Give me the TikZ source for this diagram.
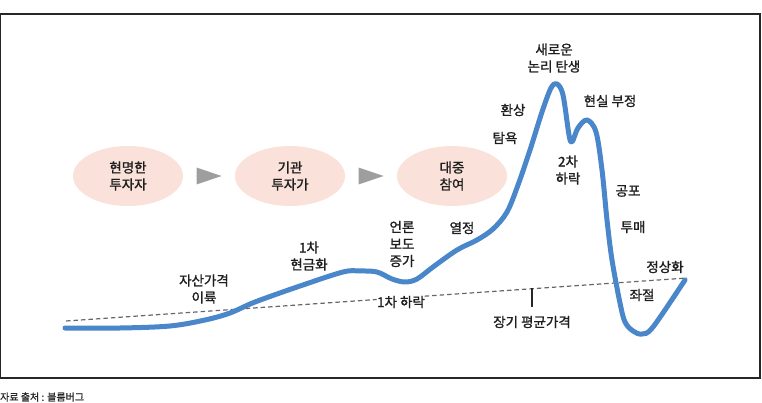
\documentclass[tikz,border=0pt]{standalone}
\usepackage{fontspec}
\setmainfont{Noto Sans CJK KR}[UprightFeatures={FakeBold=1.3}]
\usetikzlibrary{shapes.geometric,calc}
\definecolor{curveblue}{RGB}{74,134,202}
\definecolor{bubblepink}{RGB}{250,226,219}
\definecolor{arrowgray}{RGB}{158,158,158}
\definecolor{textdark}{RGB}{30,30,30}
\tikzset{
  bubble/.style={ellipse,fill=bubblepink,minimum width=110pt,minimum height=60pt,align=center,inner sep=0pt},
  lbl/.style={align=center,text=textdark,font=\fontsize{13.5}{17}\selectfont,inner sep=0pt},
  avgline/.style={dashed,dash pattern=on 4.5pt off 3pt,draw=black!60,line width=1.2pt}
}
\begin{document}
\begin{tikzpicture}[x=1pt,y=-1pt]
		\useasboundingbox (0,0) rectangle (762,403);
		\draw[line width=1.2pt,black!85] (0.6,14) rectangle (760,378);
		% bubbles
		\node[bubble,lbl] (wise) at (128,176) {현명한\\투자자};
		\node[bubble,lbl] (inst) at (290,176) {기관\\투자가};
		\node[bubble,lbl] (crowd) at (452,176) {대중\\참여};
		\coordinate (a1) at ($(wise.east)!0.5!(inst.west)$);
		\coordinate (a2) at ($(inst.east)!0.5!(crowd.west)$);
		\fill[arrowgray] ($(a1)+(-12.5,-8.5)$) -- ($(a1)+(12.5,0)$) -- ($(a1)+(-12.5,8.5)$) -- cycle;
		\fill[arrowgray] ($(a2)+(-12.5,-8.5)$) -- ($(a2)+(12.5,0)$) -- ($(a2)+(-12.5,8.5)$) -- cycle;
		% long-run average
		\coordinate (avgA) at (66,321);
		\coordinate (avgB) at (687,278);
		\node[lbl] (drop1) at (401,302) {1차 하락};
		\draw[avgline] (avgA) -- ($(avgA)!(drop1.west)!(avgB)$) coordinate (gapA);
		\draw[avgline] ($(avgA)!(drop1.east)!(avgB)$) -- (avgB);
		\coordinate (tickT) at (532,288);
		\draw[line width=1.2pt,black!85] (tickT) -- (532,307);
		\node[lbl] (avg) at (532,322) {장기 평균가격};
		% bubble curve
		\draw[curveblue,line width=5pt,line cap=round,line join=round] plot[smooth,tension=0.55] coordinates {
			(65,328) (120,328) (170,326) (205,320) (230,313) (255,302) (300,286) (343,272) (360,271)
			(377,272) (392,279) (405,282) (417,279) (433,267) (457,250) (477,240) (493,229) (507,212)
			(518,185) (530,150) (542,112) (551,88) (557,84) (563,95) (569,135) (572,142) (578,128)
			(587,120) (596,132) (602,170) (607,220) (612,260) (620,303) (625,322) (633,331) (642,334)
			(653,327) (685,280)};
		% stage labels
		\node[lbl] (takeoff) at (204,289) {자산가격\\이륙};
		\node[lbl] (cash1) at (309,256) {1차\\현금화};
		\node[lbl] (media) at (402,244) {언론\\보도\\증가};
		\node[lbl] (zeal) at (462,228) {열정};
		\node[lbl] (greed) at (505,138) {탐욕};
		\node[lbl] (illus) at (513,110) {환상};
		\node[lbl] (newlogic) at (554,58) {새로운\\논리 탄생};
		\node[lbl] (denial) at (610,101) {현실 부정};
		\node[lbl] (drop2) at (568,170) {2차\\하락};
		\node[lbl] (fear) at (628,191) {공포};
		\node[lbl] (dump) at (633,227) {투매};
		\node[lbl] (normal) at (665,267) {정상화};
		\node[lbl] (despair) at (642,295) {좌절};
		% source
		\node[anchor=west,inner sep=0pt,text=black!85,font=\fontsize{10}{12}\selectfont] (src) at (0,397) {자료 출처 : 블룸버그};
	\end{tikzpicture}
\end{document}
